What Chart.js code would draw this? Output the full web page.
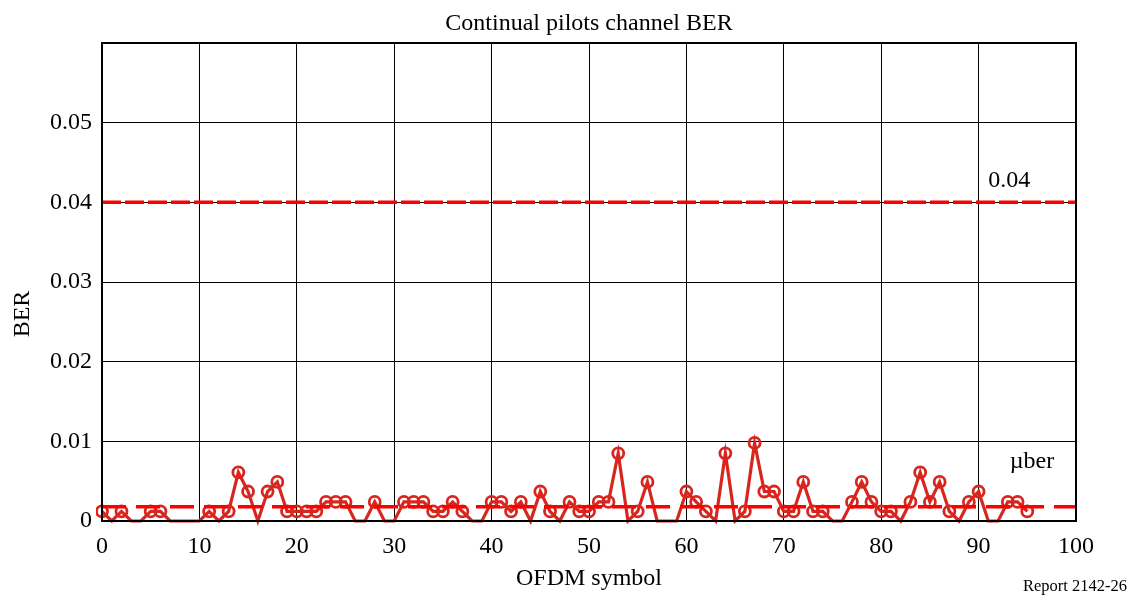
<!DOCTYPE html>
<html>
<head>
<meta charset="utf-8">
<script src="https://cdn.jsdelivr.net/npm/chart.js@4"></script>
<style>
  html, body { margin: 0; padding: 0; background: #fff; }
  #wrap { width: 1135px; height: 596px; }
</style>
</head>
<body>
<div id="wrap"><canvas id="berChart" width="1135" height="596"></canvas></div>
<script>
const symbols = [
    0, 1, 2, 3, 4, 5, 6, 7, 8, 9, 10, 11, 12, 13, 14, 15, 16, 17, 18, 19,
    20, 21, 22, 23, 24, 25, 26, 27, 28, 29, 30, 31, 32, 33, 34, 35, 36, 37, 38, 39,
    40, 41, 42, 43, 44, 45, 46, 47, 48, 49, 50, 51, 52, 53, 54, 55, 56, 57, 58, 59,
    60, 61, 62, 63, 64, 65, 66, 67, 68, 69, 70, 71, 72, 73, 74, 75, 76, 77, 78, 79,
    80, 81, 82, 83, 84, 85, 86, 87, 88, 89, 90, 91, 92, 93, 94, 95
];
const berValues = [
    0.0012, 0, 0.0012, 0, 0, 0.0012, 0.0012, 0, 0, 0,
    0, 0.0012, 0, 0.0012, 0.0061, 0.0037, 0, 0.0037, 0.0049, 0.0012,
    0.0012, 0.0012, 0.0012, 0.0024, 0.0024, 0.0024, 0, 0, 0.0024, 0,
    0, 0.0024, 0.0024, 0.0024, 0.0012, 0.0012, 0.0024, 0.0012, 0, 0,
    0.0024, 0.0024, 0.0012, 0.0024, 0, 0.0037, 0.0012, 0, 0.0024, 0.0012,
    0.0012, 0.0024, 0.0024, 0.0085, 0, 0.0012, 0.0049, 0, 0, 0,
    0.0037, 0.0024, 0.0012, 0, 0.0085, 0, 0.0012, 0.0098, 0.0037, 0.0037,
    0.0012, 0.0012, 0.0049, 0.0012, 0.0012, 0, 0, 0.0024, 0.0049, 0.0024,
    0.0012, 0.0012, 0, 0.0024, 0.0061, 0.0024, 0.0049, 0.0012, 0, 0.0024,
    0.0037, 0, 0, 0.0024, 0.0024, 0.0012
];
const thresholdBer = 0.04;
const meanBer = 0.0018;
const xRange = [0, 100];
const yTicks = [0, 0.01, 0.02, 0.03, 0.04, 0.05, 0.06];
const yTickLabels = ['0', '0.01', '0.02', '0.03', '0.04', '0.05', ''];

const serif = '"Liberation Serif", "DejaVu Serif", serif';
const dataRed = '#d8261e';
const dashRed = '#ff0000';

// extra texts: title, y title, line labels and report number
const textPlugin = {
    id: 'texts',
    afterDraw(chart) {
        const c = chart.ctx;
        const { x, y } = chart.scales;
        const area = chart.chartArea;
        c.save();
        c.fillStyle = '#000';
        c.font = '24px ' + serif;
        c.textAlign = 'center';
        c.textBaseline = 'middle';
        c.fillText('Continual pilots channel BER', (area.left + area.right) / 2, 24);

        c.save();
        c.translate(23, 314);
        c.rotate(-Math.PI / 2);
        c.fillText('BER', 0, 0);
        c.restore();

        c.textAlign = 'left';
        c.fillText('0.04', x.getPixelForValue(91.0), y.getPixelForValue(thresholdBer) - 22);
        c.fillText('\u00b5ber', x.getPixelForValue(93.2), y.getPixelForValue(0.0074));

        c.font = '16.5px ' + serif;
        c.textAlign = 'right';
        c.fillText('Report 2142-26', 1127, 587);
        c.restore();
    }
};

new Chart(document.getElementById('berChart'), {
    type: 'line',
    data: {
        datasets: [
            {
                label: 'threshold',
                data: xRange.map(v => ({ x: v, y: thresholdBer })),
                borderColor: dashRed,
                borderWidth: 3.5,
                borderDash: [19, 4],
                pointRadius: 0
            },
            {
                label: 'mean',
                data: xRange.map(v => ({ x: v, y: meanBer })),
                borderColor: dashRed,
                borderWidth: 3.5,
                borderDash: [24, 10],
                pointRadius: 0
            },
            {
                label: 'BER',
                data: symbols.map((s, i) => ({ x: s, y: berValues[i] })),
                borderColor: dataRed,
                borderWidth: 3.2,
                pointRadius: ctx => (ctx.raw && ctx.raw.y > 0 ? 5.5 : 0),
                pointBorderWidth: 2.8,
                pointBorderColor: dataRed,
                pointBackgroundColor: 'rgba(255,255,255,0)',
                tension: 0,
                clip: { left: 6, right: 6, top: 6, bottom: 10 }
            }
        ]
    },
    options: {
        responsive: false,
        animation: false,
        layout: { padding: { top: 43, right: 59, left: 0, bottom: 0 } },
        plugins: {
            legend: { display: false },
            tooltip: { enabled: false },
            title: { display: false }
        },
        scales: {
            x: {
                type: 'linear',
                min: 0,
                max: 100,
                ticks: {
                    stepSize: 10,
                    padding: 11,
                    color: '#000',
                    font: { family: serif, size: 24 },
                    maxRotation: 0
                },
                grid: { color: '#000', lineWidth: 1, drawTicks: false },
                border: { color: '#000', width: 2 },
                title: {
                    display: true,
                    text: 'OFDM symbol',
                    color: '#000',
                    font: { family: serif, size: 24 },
                    padding: { top: 0, bottom: 3 }
                },
                afterFit: s => { s.height = 75; }
            },
            y: {
                type: 'linear',
                min: 0,
                max: 0.06,
                afterBuildTicks: s => { s.ticks = yTicks.map(v => ({ value: v })); },
                ticks: {
                    padding: 10,
                    color: '#000',
                    font: { family: serif, size: 24 },
                    callback: (v, i) => yTickLabels[i]
                },
                grid: { color: '#000', lineWidth: 1, drawTicks: false },
                border: { color: '#000', width: 2 },
                afterFit: s => { s.width = 102; }
            }
        }
    },
    plugins: [textPlugin, {
        id: 'frame',
        afterDatasetsDraw(chart) {
            const { left, right, top, bottom } = chart.chartArea;
            const c = chart.ctx;
            c.save();
            c.strokeStyle = '#000';
            c.lineWidth = 2;
            c.strokeRect(left, top, right - left, bottom - top);
            c.restore();
        }
    }]
});
</script>
</body>
</html>
